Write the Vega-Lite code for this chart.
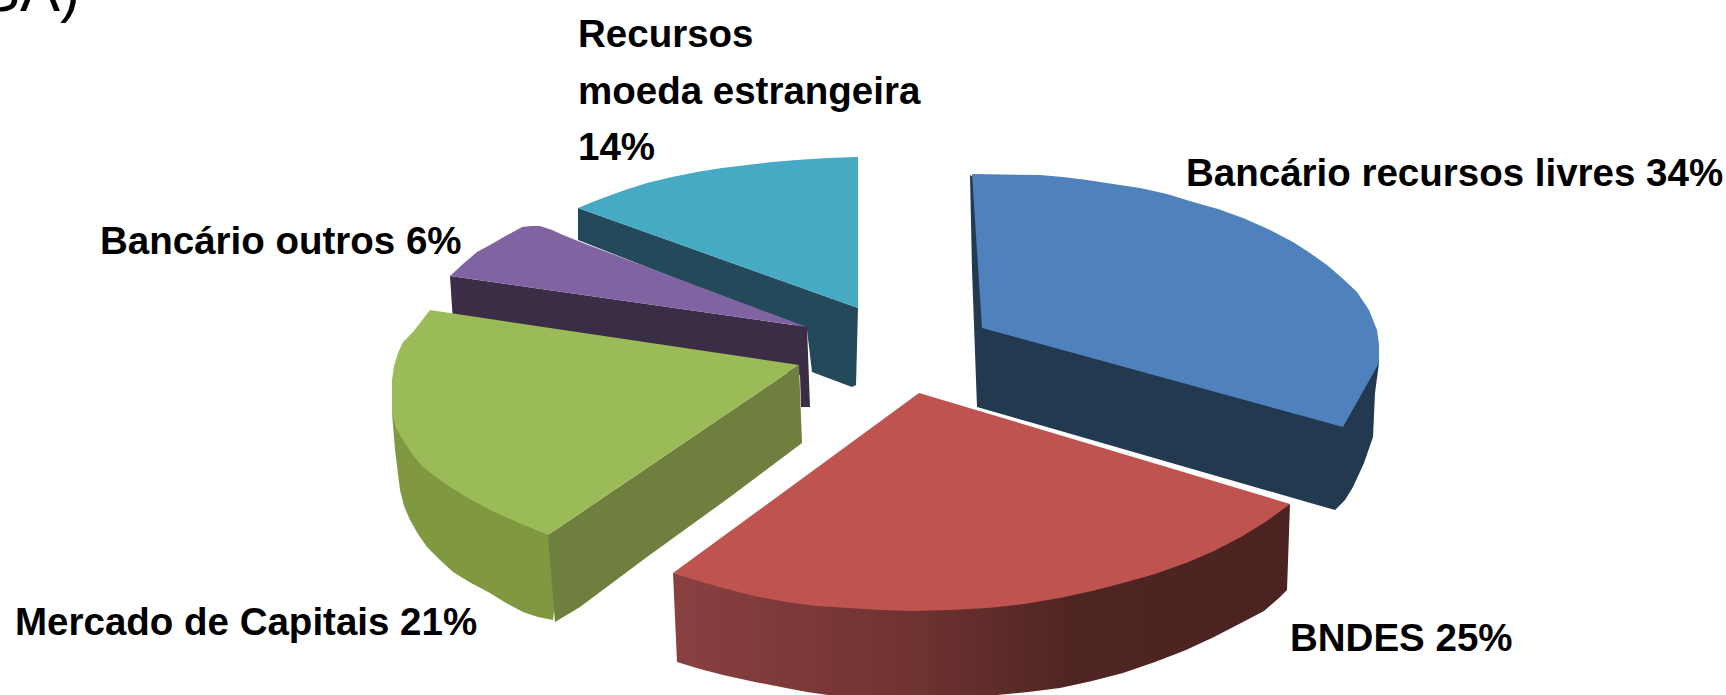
{"$schema":"https://vega.github.io/schema/vega-lite/v6.json","width":1726,"height":695,"padding":0,"autosize":{"type":"none"},"background":"#ffffff","config":{"view":{"stroke":null}},
"datasets":{
"faces":[
{"face":"blue side","i":1,"x":970,"y":175},{"face":"blue side","i":2,"x":972,"y":270},{"face":"blue side","i":3,"x":977,"y":407},{"face":"blue side","i":4,"x":1040,"y":425},{"face":"blue side","i":5,"x":1307,"y":502},{"face":"blue side","i":6,"x":1335,"y":510},{"face":"blue side","i":7,"x":1345,"y":500},{"face":"blue side","i":8,"x":1353,"y":487},{"face":"blue side","i":9,"x":1364,"y":463},{"face":"blue side","i":10,"x":1373,"y":437},{"face":"blue side","i":11,"x":1375,"y":393},{"face":"blue side","i":12,"x":1379,"y":363},{"face":"blue side","i":13,"x":1100,"y":250},
{"face":"blue top","i":1,"x":972,"y":174},{"face":"blue top","i":2,"x":1040,"y":175},{"face":"blue top","i":3,"x":1063,"y":177},{"face":"blue top","i":4,"x":1087,"y":180},{"face":"blue top","i":5,"x":1113,"y":184},{"face":"blue top","i":6,"x":1140,"y":188},{"face":"blue top","i":7,"x":1167,"y":194},{"face":"blue top","i":8,"x":1193,"y":202},{"face":"blue top","i":9,"x":1218,"y":209},{"face":"blue top","i":10,"x":1243,"y":218},{"face":"blue top","i":11,"x":1268,"y":229},{"face":"blue top","i":12,"x":1293,"y":242},{"face":"blue top","i":13,"x":1310,"y":253},{"face":"blue top","i":14,"x":1327,"y":265},{"face":"blue top","i":15,"x":1342,"y":278},{"face":"blue top","i":16,"x":1357,"y":292},{"face":"blue top","i":17,"x":1369,"y":310},{"face":"blue top","i":18,"x":1377,"y":330},{"face":"blue top","i":19,"x":1379,"y":345},{"face":"blue top","i":20,"x":1379,"y":363},{"face":"blue top","i":21,"x":1343,"y":427},{"face":"blue top","i":22,"x":982,"y":328},
{"face":"teal side","i":1,"x":578,"y":208},{"face":"teal side","i":2,"x":858,"y":308},{"face":"teal side","i":3,"x":856,"y":385},{"face":"teal side","i":4,"x":852,"y":387},{"face":"teal side","i":5,"x":812,"y":372},{"face":"teal side","i":6,"x":807,"y":330},{"face":"teal side","i":7,"x":578,"y":240},
{"face":"teal top","i":1,"x":578,"y":208},{"face":"teal top","i":2,"x":590,"y":203},{"face":"teal top","i":3,"x":603,"y":198},{"face":"teal top","i":4,"x":625,"y":190},{"face":"teal top","i":5,"x":647,"y":183},{"face":"teal top","i":6,"x":672,"y":177},{"face":"teal top","i":7,"x":697,"y":172},{"face":"teal top","i":8,"x":722,"y":168},{"face":"teal top","i":9,"x":747,"y":165},{"face":"teal top","i":10,"x":772,"y":162},{"face":"teal top","i":11,"x":797,"y":160},{"face":"teal top","i":12,"x":827,"y":158},{"face":"teal top","i":13,"x":858,"y":157},{"face":"teal top","i":14,"x":858,"y":308},
{"face":"purple side","i":1,"x":450,"y":276},{"face":"purple side","i":2,"x":807,"y":327},{"face":"purple side","i":3,"x":810,"y":407},{"face":"purple side","i":4,"x":801,"y":407},{"face":"purple side","i":5,"x":800,"y":375},{"face":"purple side","i":6,"x":453,"y":322},
{"face":"purple top","i":1,"x":450,"y":276},{"face":"purple top","i":2,"x":463,"y":264},{"face":"purple top","i":3,"x":477,"y":252},{"face":"purple top","i":4,"x":490,"y":245},{"face":"purple top","i":5,"x":502,"y":238},{"face":"purple top","i":6,"x":522,"y":227},{"face":"purple top","i":7,"x":531,"y":226},{"face":"purple top","i":8,"x":540,"y":226},{"face":"purple top","i":9,"x":552,"y":230},{"face":"purple top","i":10,"x":563,"y":235},{"face":"purple top","i":11,"x":583,"y":243},{"face":"purple top","i":12,"x":807,"y":327},
{"face":"green left","i":1,"x":392,"y":413},{"face":"green left","i":2,"x":395,"y":450},{"face":"green left","i":3,"x":400,"y":490},{"face":"green left","i":4,"x":404,"y":506},{"face":"green left","i":5,"x":410,"y":520},{"face":"green left","i":6,"x":418,"y":534},{"face":"green left","i":7,"x":427,"y":547},{"face":"green left","i":8,"x":440,"y":560},{"face":"green left","i":9,"x":453,"y":572},{"face":"green left","i":10,"x":471,"y":583},{"face":"green left","i":11,"x":490,"y":593},{"face":"green left","i":12,"x":506,"y":603},{"face":"green left","i":13,"x":523,"y":612},{"face":"green left","i":14,"x":538,"y":617},{"face":"green left","i":15,"x":553,"y":620},{"face":"green left","i":16,"x":560,"y":560},{"face":"green left","i":17,"x":548,"y":525},
{"face":"green front","i":1,"x":548,"y":535},{"face":"green front","i":2,"x":799,"y":365},{"face":"green front","i":3,"x":802,"y":443},{"face":"green front","i":4,"x":730,"y":497},{"face":"green front","i":5,"x":647,"y":557},{"face":"green front","i":6,"x":580,"y":607},{"face":"green front","i":7,"x":555,"y":622},
{"face":"green top","i":1,"x":430,"y":310},{"face":"green top","i":2,"x":799,"y":365},{"face":"green top","i":3,"x":548,"y":535},{"face":"green top","i":4,"x":519,"y":523},{"face":"green top","i":5,"x":490,"y":510},{"face":"green top","i":6,"x":470,"y":499},{"face":"green top","i":7,"x":450,"y":487},{"face":"green top","i":8,"x":436,"y":477},{"face":"green top","i":9,"x":423,"y":467},{"face":"green top","i":10,"x":412,"y":454},{"face":"green top","i":11,"x":403,"y":440},{"face":"green top","i":12,"x":396,"y":428},{"face":"green top","i":13,"x":392,"y":413},{"face":"green top","i":14,"x":392,"y":380},{"face":"green top","i":15,"x":394,"y":366},{"face":"green top","i":16,"x":398,"y":353},{"face":"green top","i":17,"x":403,"y":342},{"face":"green top","i":18,"x":413,"y":332},
{"face":"red top","i":1,"x":919,"y":393},{"face":"red top","i":2,"x":1290,"y":504},{"face":"red top","i":3,"x":1267,"y":521},{"face":"red top","i":4,"x":1241,"y":537},{"face":"red top","i":5,"x":1214,"y":551},{"face":"red top","i":6,"x":1186,"y":563},{"face":"red top","i":7,"x":1155,"y":574},{"face":"red top","i":8,"x":1123,"y":583},{"face":"red top","i":9,"x":1092,"y":591},{"face":"red top","i":10,"x":1060,"y":598},{"face":"red top","i":11,"x":1024,"y":604},{"face":"red top","i":12,"x":988,"y":608},{"face":"red top","i":13,"x":950,"y":610},{"face":"red top","i":14,"x":913,"y":611},{"face":"red top","i":15,"x":880,"y":610},{"face":"red top","i":16,"x":849,"y":608},{"face":"red top","i":17,"x":817,"y":606},{"face":"red top","i":18,"x":786,"y":602},{"face":"red top","i":19,"x":754,"y":596},{"face":"red top","i":20,"x":723,"y":588},{"face":"red top","i":21,"x":698,"y":581},{"face":"red top","i":22,"x":673,"y":573}
],
"redSide":[
{"i":1,"x":673,"y":573},{"i":2,"x":723,"y":585},{"i":3,"x":786,"y":600},{"i":4,"x":913,"y":608},{"i":5,"x":1060,"y":595},{"i":6,"x":1186,"y":560},{"i":7,"x":1290,"y":504},{"i":8,"x":1287,"y":590},{"i":9,"x":1279,"y":598},{"i":10,"x":1264,"y":611},{"i":11,"x":1241,"y":623},{"i":12,"x":1214,"y":637},{"i":13,"x":1186,"y":650},{"i":14,"x":1155,"y":662},{"i":15,"x":1123,"y":673},{"i":16,"x":1092,"y":681},{"i":17,"x":1060,"y":688},{"i":18,"x":1028,"y":692},{"i":19,"x":997,"y":695},{"i":20,"x":828,"y":695},{"i":21,"x":807,"y":692},{"i":22,"x":786,"y":688},{"i":23,"x":755,"y":682},{"i":24,"x":723,"y":675},{"i":25,"x":700,"y":669},{"i":26,"x":677,"y":662}
],
"labels":[
{"label":"Recursos","x":578,"y":47},{"label":"moeda estrangeira","x":578,"y":104},{"label":"14%","x":578,"y":160},{"label":"Bancário recursos livres 34%","x":1186,"y":186},{"label":"Bancário outros 6%","x":100,"y":254},{"label":"Mercado de Capitais 21%","x":15,"y":635},{"label":"BNDES 25%","x":1290,"y":651}
],
"cut":[{"label":"SA)","x":80,"y":11}]
},
"layer":[
{"data":{"name":"redSide"},"mark":{"type":"line","filled":true,"strokeWidth":0,"clip":true,"fill":{"gradient":"linear","x1":0,"y1":0,"x2":1,"y2":0,"stops":[{"offset":0,"color":"#8a4040"},{"offset":0.4,"color":"#6e3231"},{"offset":0.65,"color":"#4e2522"},{"offset":1,"color":"#4b2320"}]}},
"encoding":{"x":{"field":"x","type":"quantitative","scale":{"domain":[0,1726]},"axis":null},"y":{"field":"y","type":"quantitative","scale":{"domain":[695,0]},"axis":null},"order":{"field":"i"}}},
{"data":{"name":"faces"},"mark":{"type":"line","filled":true,"strokeWidth":0,"clip":true},
"encoding":{"x":{"field":"x","type":"quantitative","scale":{"domain":[0,1726]},"axis":null},"y":{"field":"y","type":"quantitative","scale":{"domain":[695,0]},"axis":null},"order":{"field":"i"},"detail":{"field":"face"},
"fill":{"field":"face","type":"nominal","legend":null,"scale":{"domain":["blue side","blue top","teal side","teal top","purple side","purple top","green left","green front","green top","red top"],"range":["#22394f","#4f81bd","#23495a","#46aac4","#3b2d45","#8064a2","#80983f","#6f7f3d","#9bbb59","#be5350"]}}}},
{"data":{"name":"labels"},"mark":{"type":"text","font":"Liberation Sans","fontWeight":"bold","fontSize":38.5,"align":"left","baseline":"alphabetic","color":"#000000"},
"encoding":{"x":{"field":"x","type":"quantitative","scale":{"domain":[0,1726]},"axis":null},"y":{"field":"y","type":"quantitative","scale":{"domain":[695,0]},"axis":null},"text":{"field":"label"}}},
{"data":{"name":"cut"},"mark":{"type":"text","font":"Liberation Sans","fontSize":60,"align":"right","baseline":"alphabetic","color":"#000000"},
"encoding":{"x":{"field":"x","type":"quantitative","scale":{"domain":[0,1726]},"axis":null},"y":{"field":"y","type":"quantitative","scale":{"domain":[695,0]},"axis":null},"text":{"field":"label"}}}
]}
